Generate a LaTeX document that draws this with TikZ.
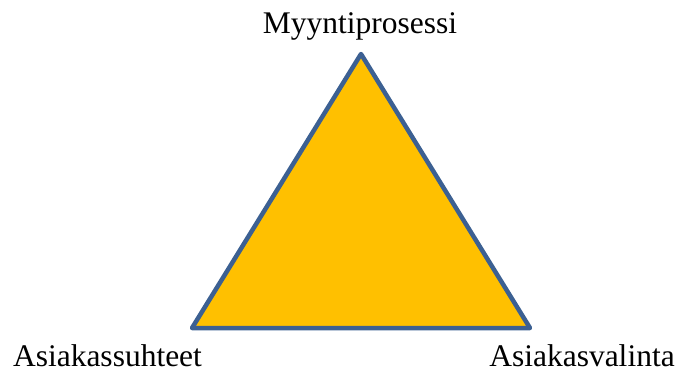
\documentclass[tikz,border=0pt]{standalone}
\usepackage{fontspec}
\setmainfont{Liberation Serif}
\definecolor{trifill}{RGB}{255,192,0}
\definecolor{triedge}{RGB}{60,96,146}
\begin{document}
\begin{tikzpicture}[x=1pt,y=-1pt,
  lbl/.style={font=\fontsize{31.5}{34}\selectfont, inner sep=0pt, anchor=base, text depth=0pt}]
\useasboundingbox (0,0) rectangle (678,372);
\coordinate (top) at (361,54);
\coordinate (bl) at (192,328);
\coordinate (br) at (530,328);
\draw[fill=trifill, draw=triedge, line width=4.5pt, line join=round] (top) -- (bl) -- (br) -- cycle;
\node[lbl] (t) at (360,34) {Myyntiprosessi};
\node[lbl] (l) at (107.5,366) {Asiakassuhteet};
\node[lbl] (r) at (582,366) {Asiakasvalinta};
\end{tikzpicture}
\end{document}
